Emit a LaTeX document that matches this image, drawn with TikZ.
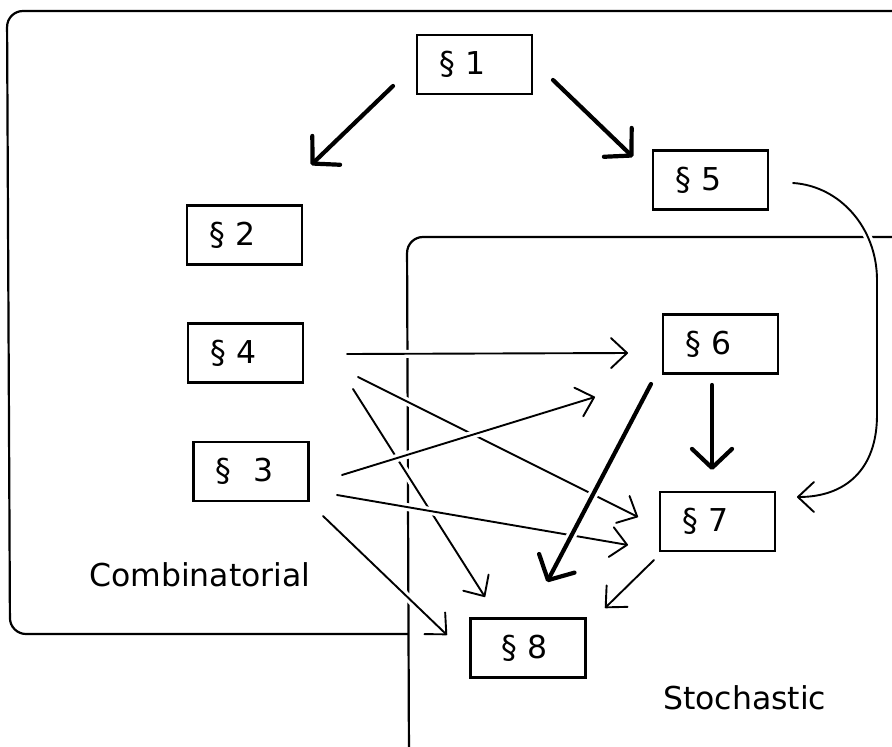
\documentclass[tikz,border=0pt]{standalone}
\usepackage{fontspec}
\setmainfont{DejaVu Sans}
\usetikzlibrary{arrows.meta,calc}
\begin{document}
\begin{tikzpicture}[x=1pt,y=-1pt,
  font=\fontsize{31.5}{36}\selectfont,
  box/.style={draw, line width=2.2pt, minimum width=115pt, minimum height=59pt,
    text width=71pt, inner xsep=22pt, inner ysep=0pt, align=left},
  region/.style={line width=2.2pt, rounded corners=16pt},
  halo/.style={preaction={draw=white, line width=#1, -}},
  thinarr/.style={line width=1.9pt, line cap=round,
    -{Straight Barb[length=16pt,width=30pt,round]}, halo=8pt},
  thickarr/.style={line width=4.2pt, line cap=round,
    -{Straight Barb[length=19pt,width=40pt,round]}, halo=10pt},
  lbl/.style={anchor=base west, inner sep=0pt}]
\useasboundingbox (0,0) rectangle (892,747);

% regions
\draw[region] (895,11) -- (7,11) -- (10,634) -- (408,634);
\draw[region] (895,237) -- (407,237) -- (409,762) -- (520,762);

\node[lbl] (comb) at (89,586) {Combinatorial};
\node[lbl] (stoch) at (663,709) {Stochastic};

% sections
\node[box] (n1) at (474.5,64.5) {§ 1};
\node[box] (n2) at (244.5,235) {§ 2};
\node[box] (n5) at (710.5,180) {§ 5};
\node[box] (n4) at (245.5,353) {§ 4};
\node[box] (n3) at (251,471.5) {§\hspace*{22pt}3};
\node[box] (n6) at (720.5,344) {§ 6};
\node[box] (n7) at (717.5,521.5) {§ 7};
\node[box] (n8) at (528,648) {\hspace*{9pt}§ 8};

\coordinate (c57a) at (877,280);
\coordinate (c57b) at (877,415);

% thin connectors
\draw[thinarr] ($(n4)+(101.5,1)$) -- ($(n6)+(-92.5,9)$);
\draw[thinarr] ($(n4)+(112.5,24)$) -- ($(n7)+(-79.5,-4.5)$);
\draw[thinarr] ($(n4)+(107.5,36)$) -- ($(n8)+(-43,-51)$);
\draw[thinarr] ($(n3)+(86,23.5)$) -- ($(n7)+(-89.5,23.5)$);
\draw[thinarr] ($(n3)+(91,3.5)$) -- ($(n6)+(-125.5,53)$);
\draw[thinarr] ($(n3)+(72,44.5)$) -- ($(n8)+(-81,-13)$);
\draw[thinarr] ($(n7)+(-63.5,38.5)$) -- ($(n8)+(77,-40)$);
\draw[thinarr] ($(n5)+(82.5,3)$) .. controls (840,186) and (877,228) .. (c57a)
  -- (c57b) .. controls (877,470) and (845,497) .. ($(n7)+(79.5,-24.5)$);

% thick connectors
\draw[thickarr] ($(n1)+(-81.5,21.5)$) -- ($(n2)+(66.5,-70)$);
\draw[thickarr] ($(n1)+(78.5,15.5)$) -- ($(n5)+(-77.5,-23)$);
\draw[thickarr] ($(n6)+(-69.5,40)$) -- ($(n8)+(19,-66)$);
\draw[thickarr] ($(n6)+(-8.5,41)$) -- ($(n7)+(-5.5,-51.5)$);
\end{tikzpicture}
\end{document}
